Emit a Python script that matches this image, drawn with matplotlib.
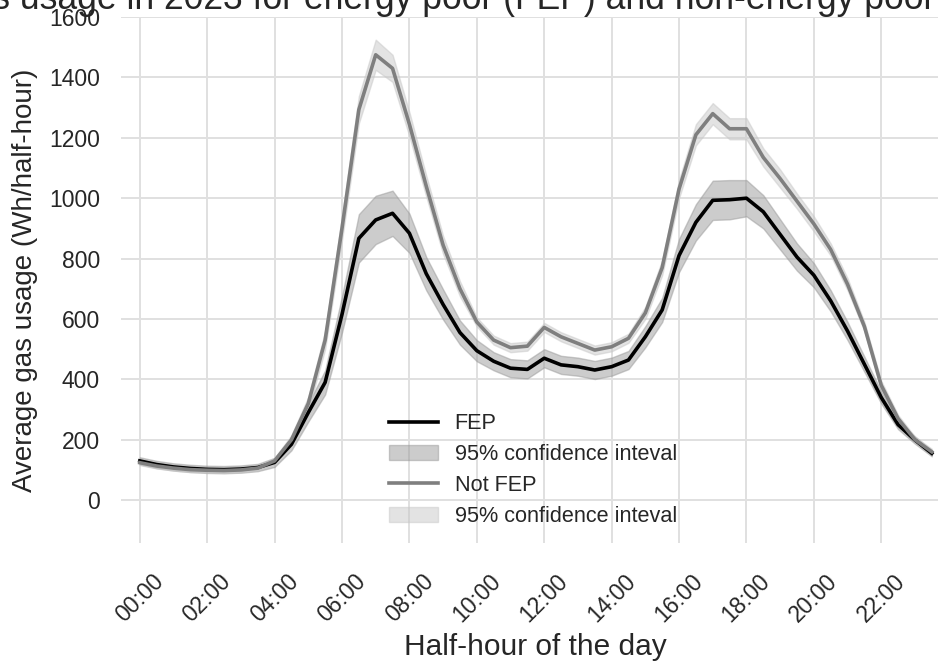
import numpy as np
import matplotlib
matplotlib.use("Agg")
import matplotlib.pyplot as plt

# half-hour slots of the day, 00:00 .. 23:30
slots = np.arange(48)
tick_slots = np.arange(0, 48, 4)
tick_labels = [f"{h:02d}:00" for h in range(0, 24, 2)]

# average gas usage (Wh/half-hour), fuel energy poor households
fep_mean = [130, 118, 110, 105, 102, 101, 103, 108, 125, 185, 290, 390,
            615, 867, 928, 950, 884, 750, 648, 555, 495, 460, 437, 433,
            470, 448, 442, 431, 442, 464, 541, 630, 810, 920, 993, 995,
            1000, 955, 880, 805, 745, 660, 560, 450, 340, 250, 199, 155]
fep_ci = [12, 12, 12, 12, 12, 12, 12, 12, 15, 20, 30, 40,
          60, 80, 80, 75, 65, 55, 50, 40, 35, 30, 30, 30,
          30, 30, 30, 30, 30, 30, 35, 40, 55, 60, 65, 65,
          60, 55, 50, 45, 40, 35, 30, 25, 20, 15, 12, 10]

# average gas usage (Wh/half-hour), households not in fuel energy poverty
notfep_mean = [124, 113, 106, 101, 99, 98, 100, 106, 130, 200, 320, 530,
               900, 1293, 1475, 1430, 1245, 1040, 845, 700, 590, 530, 505, 510,
               572, 541, 519, 497, 508, 536, 620, 770, 1030, 1210, 1280, 1230,
               1230, 1135, 1065, 990, 915, 830, 715, 575, 380, 270, 200, 160]
notfep_ci = [8, 8, 8, 8, 8, 8, 8, 8, 10, 15, 22, 30,
             40, 45, 50, 45, 40, 35, 30, 25, 15, 15, 15, 15,
             15, 15, 15, 15, 15, 15, 20, 25, 30, 35, 35, 35,
             35, 30, 30, 25, 25, 20, 20, 15, 15, 12, 10, 10]

plt.rcParams['font.family'] = ['Liberation Sans', 'DejaVu Sans']
plt.rcParams['text.color'] = '#262626'
plt.rcParams['axes.labelcolor'] = '#262626'
plt.rcParams['xtick.color'] = '#262626'
plt.rcParams['ytick.color'] = '#262626'

fig = plt.figure(figsize=(9.38, 6.68), dpi=100)
ax = fig.add_axes([0.1287, 0.1871, 0.885, 0.7874])

fep_mean = np.array(fep_mean)
fep_ci = np.array(fep_ci)
notfep_mean = np.array(notfep_mean)
notfep_ci = np.array(notfep_ci)

ax.plot(slots, fep_mean, color='black', lw=2.6, label='FEP', zorder=3)
ax.fill_between(slots, fep_mean - fep_ci, fep_mean + fep_ci, color='#9a9a9a',
                alpha=0.5, lw=1, label='95% confidence inteval', zorder=2)
ax.plot(slots, notfep_mean, color='#7f7f7f', lw=2.6, label='Not FEP', zorder=3)
ax.fill_between(slots, notfep_mean - notfep_ci, notfep_mean + notfep_ci,
                color='#c8c8c8', alpha=0.5, lw=1,
                label='95% confidence inteval', zorder=2)

ax.set_xlim(-1.13, 48.13)
ax.set_ylim(-142, 1600)
ax.set_yticks(range(0, 1601, 200))
ax.set_xticks(tick_slots)
ax.set_xticklabels(tick_labels, rotation=45)

ax.grid(True, color='#e0e0e0', lw=1.4)
ax.set_axisbelow(True)
for s in ax.spines.values():
    s.set_visible(False)
ax.tick_params(axis='both', length=0, labelsize=16.5)
ax.tick_params(axis='x', pad=19)
ax.tick_params(axis='y', pad=15)

ax.set_xlabel('Half-hour of the day', fontsize=21.5, labelpad=5)
ax.set_ylabel('Average gas usage (Wh/half-hour)', fontsize=20, labelpad=8)
ax.set_title('Gas usage in 2023 for energy poor (FEP) and non-energy poor households',
             fontsize=25.6)

ax.legend(loc='upper left', bbox_to_anchor=(0.405, 0.394),
          bbox_transform=fig.transFigure, frameon=False, fontsize=15.6,
          handlelength=2.3, handletextpad=0.75, labelspacing=0.45,
          borderaxespad=0)

fig.savefig('out.png', dpi=100)
